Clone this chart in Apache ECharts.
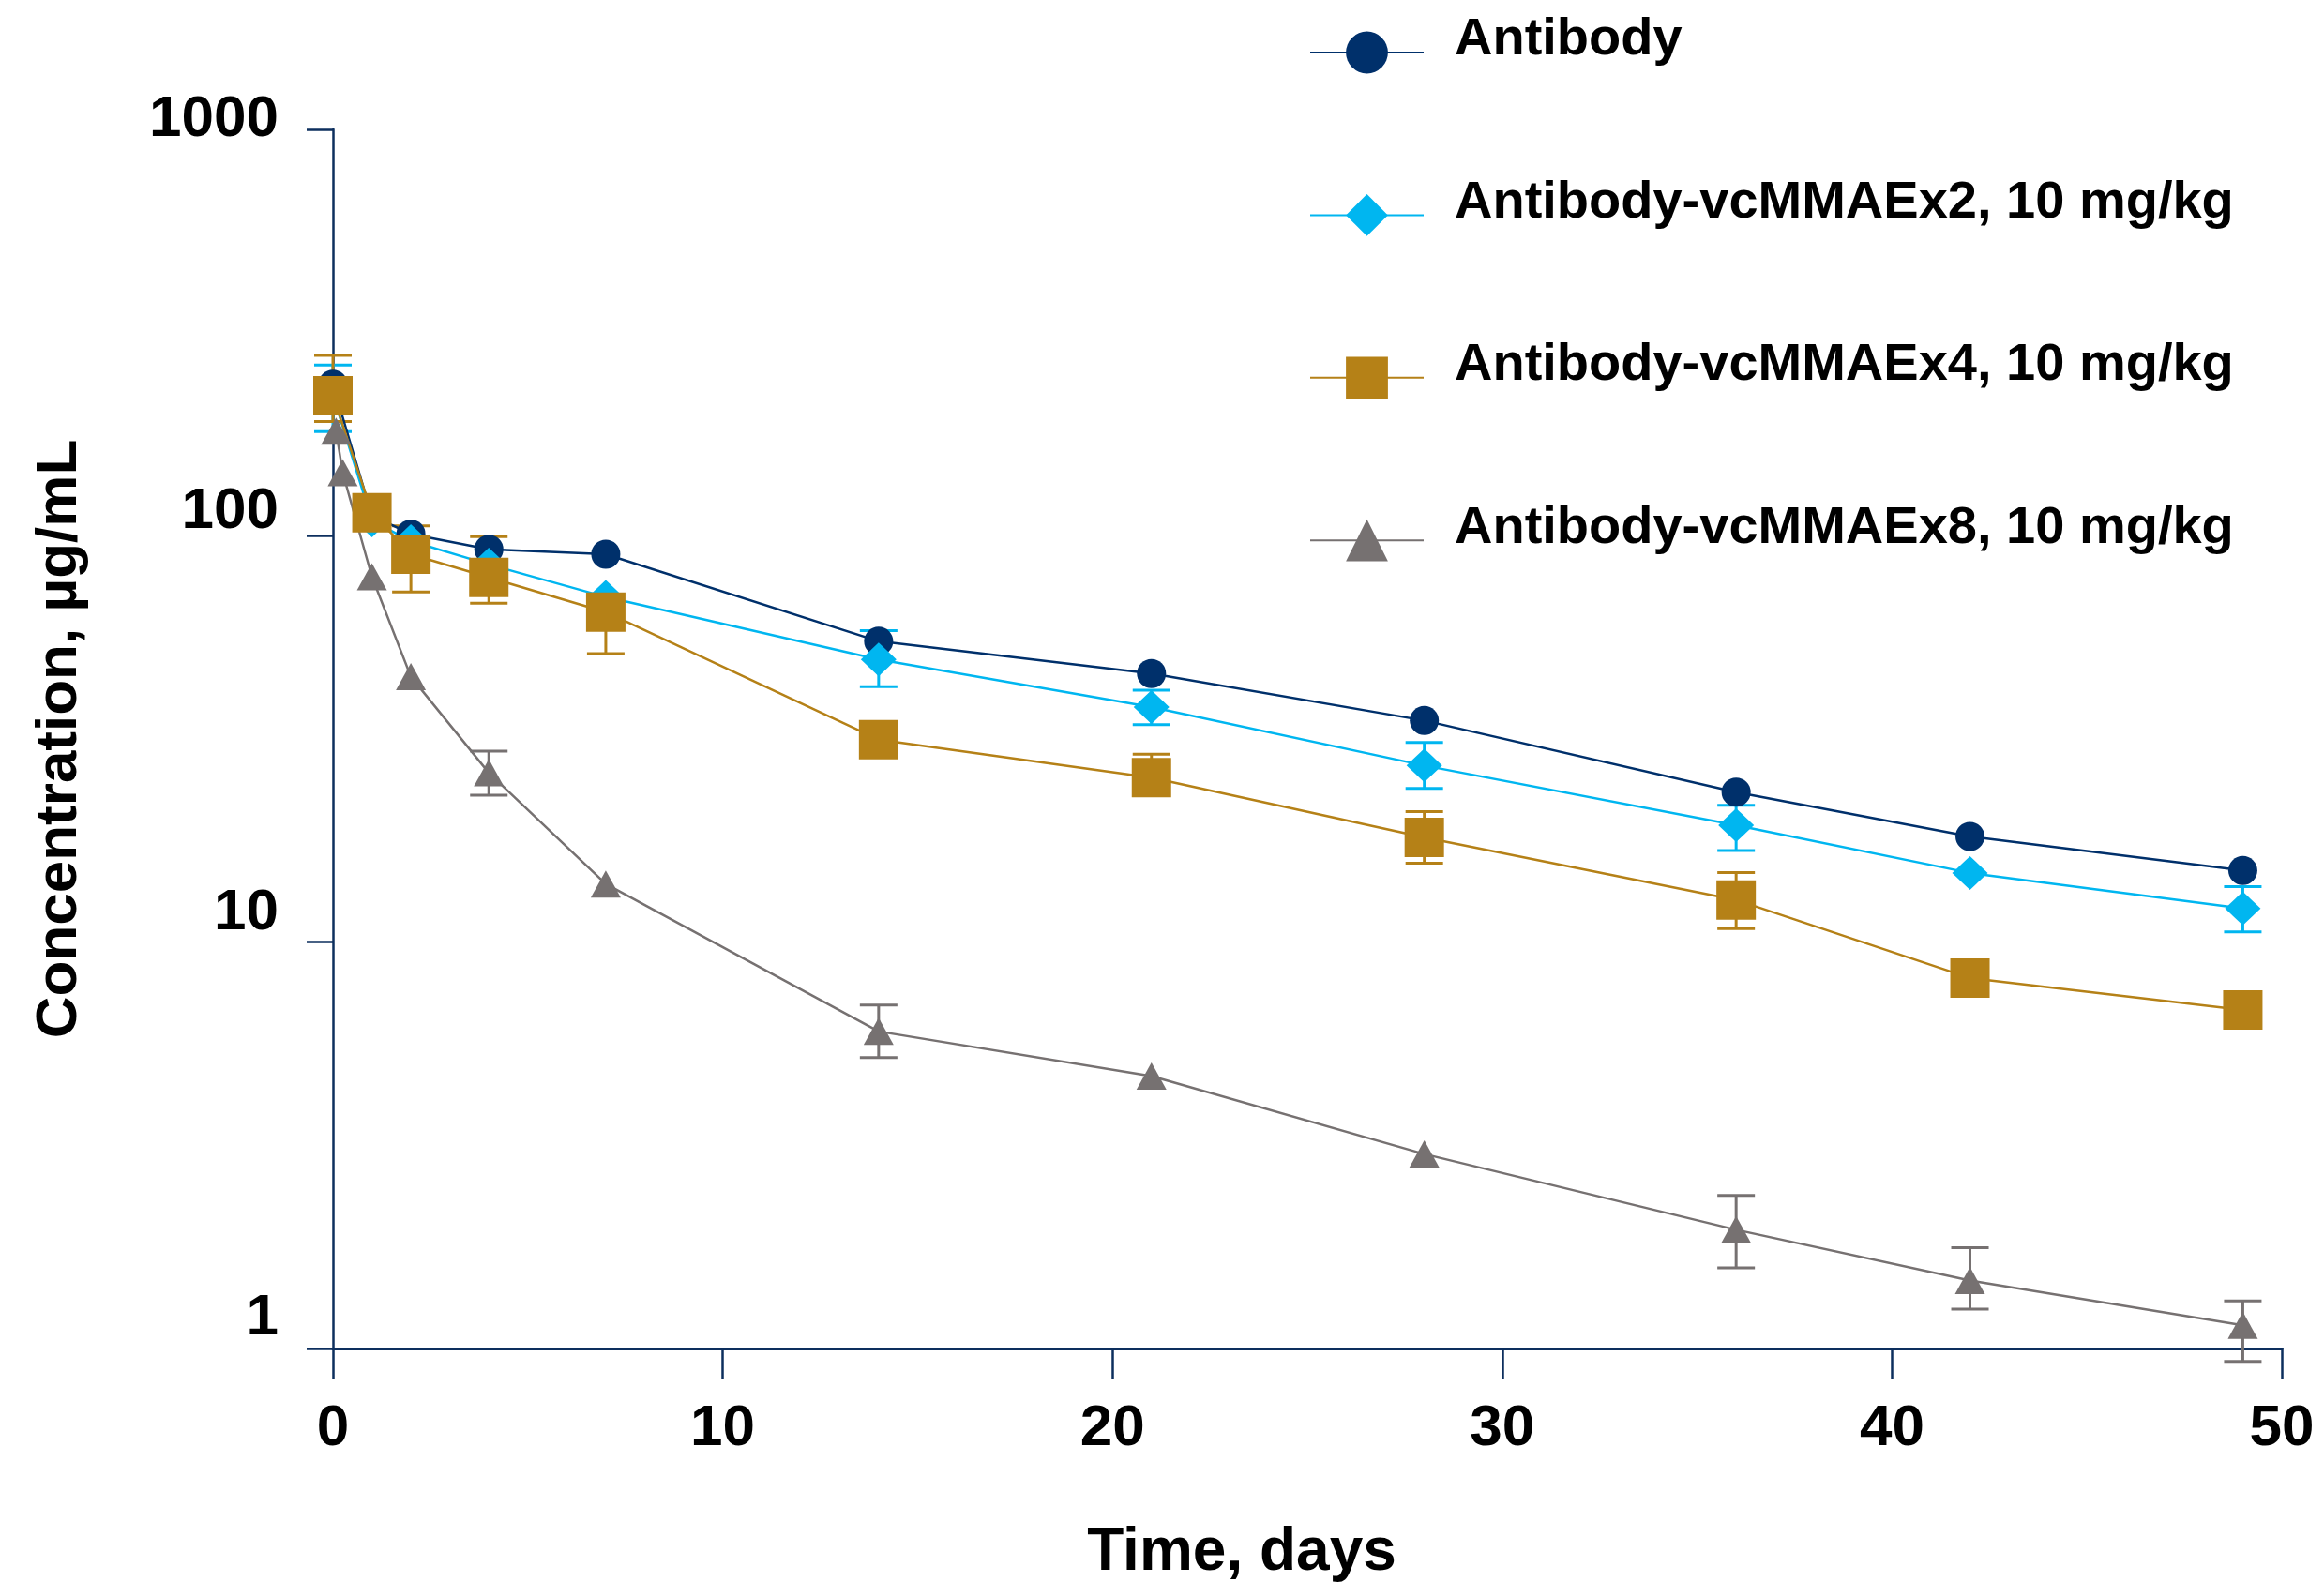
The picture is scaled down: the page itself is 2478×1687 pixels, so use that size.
<!DOCTYPE html>
<html><head><meta charset="utf-8">
<script src="https://cdn.jsdelivr.net/npm/echarts@6/dist/echarts.min.js"></script>
<style>html,body{margin:0;padding:0;background:#fff}#c{width:2478px;height:1687px}</style>
</head><body><div id="c"></div>
<script>
// ---- data ----
const seriesNames = ['Antibody', 'Antibody-vcMMAEx2, 10 mg/kg', 'Antibody-vcMMAEx4, 10 mg/kg', 'Antibody-vcMMAEx8, 10 mg/kg'];
const timesMain = [0, 1, 2, 4, 7, 14, 21, 28, 36, 42, 49];
const timesX8 = [0.08, 0.25, 1, 2, 4, 7, 14, 21, 28, 36, 42, 49];
const antibody = [236, 112, 101, 92.6, 90.1, 55.0, 45.8, 35.1, 23.4, 18.2, 15.0];
const adcX2 = [222, 109, 97, 85, 70.7, 49.6, 37.9, 27.2, 19.4, 14.8, 12.1];
const adcX4 = [221, 114, 90.1, 79.0, 64.9, 31.5, 25.4, 18.1, 12.7, 8.16, 6.81];
const adcX8 = [181, 143, 79.3, 45.0, 26.1, 13.9, 6.03, 4.68, 3.01, 1.96, 1.47, 1.14];
// error bars: [time, low, high]
const errX2 = [[0, 180.5, 263], [14, 42.5, 58.4], [21, 34.3, 41.7], [28, 23.9, 31.0], [36, 16.8, 21.7], [49, 10.6, 13.7]];
const errX4 = [[0, 191, 278], [2, 72.7, 105.8], [4, 68.2, 99.5], [7, 51.3, 70], [21, 23, 29.0], [28, 15.65, 20.96], [36, 10.8, 14.84]];
const errX8 = [[4, 23.0, 29.5], [14, 5.2, 7.0], [36, 1.58, 2.38], [42, 1.25, 1.77], [49, 0.93, 1.31]];
const xTicks = [0, 10, 20, 30, 40, 50];
const yTicks = [1, 10, 100, 1000];

// ---- styles ----
const colors = ['#00306B', '#00B6F0', '#B58117', '#767171'];
const symbols = ['circle', 'diamond', 'rect', 'triangle'];
const symbolSizes = [31, [38, 36], 42, [32, 29]];
const axisColor = '#0D2F5E';
const FONT = '"Liberation Sans", Arial, sans-serif';

function pairs(ts, vs) { return ts.map((t, i) => [t, vs[i]]); }

function errRender(color) {
  return function (params, api) {
    const x = api.value(0), lo = api.value(1), hi = api.value(2);
    const pLo = api.coord([x, lo]), pHi = api.coord([x, hi]);
    const hw = 20;
    const style = { stroke: color, lineWidth: 3, fill: null };
    return {
      type: 'group', children: [
        { type: 'line', shape: { x1: pLo[0], y1: pLo[1], x2: pHi[0], y2: pHi[1] }, style },
        { type: 'line', shape: { x1: pLo[0] - hw, y1: pLo[1], x2: pLo[0] + hw, y2: pLo[1] }, style },
        { type: 'line', shape: { x1: pHi[0] - hw, y1: pHi[1], x2: pHi[0] + hw, y2: pHi[1] }, style }
      ]
    };
  };
}

const lineData = [pairs(timesMain, antibody), pairs(timesMain, adcX2), pairs(timesMain, adcX4), pairs(timesX8, adcX8)];
const errData = [null, errX2, errX4, errX8];

const series = [];
lineData.forEach((d, i) => {
  series.push({
    name: seriesNames[i], type: 'line', data: d,
    symbol: symbols[i], symbolSize: symbolSizes[i],
    itemStyle: { color: colors[i] },
    lineStyle: { color: colors[i], width: 2.5 },
    emphasis: { disabled: true }
  });
  if (errData[i]) {
    series.push({
      name: 'err' + i, type: 'custom', data: errData[i],
      encode: { x: 0, y: [1, 2] },
      renderItem: errRender(colors[i]), clip: false, silent: true
    });
  }
});

const yPad = { 1: 64, 10: 62, 100: 50, 1000: 20 };
const rich = {};
yTicks.forEach(v => {
  rich['p' + v] = { fontSize: 62, fontWeight: 'bold', fontFamily: FONT, color: '#000', padding: [0, 0, yPad[v], 0] };
});

const chart = echarts.init(document.getElementById('c'));
chart.setOption({
  animation: false,
  backgroundColor: '#fff',
  grid: { left: 355, right: 45, top: 138, bottom: 249, containLabel: false, outerBoundsMode: 'none' },
  legend: {
    data: seriesNames, orient: 'vertical', left: 1396, top: 15, padding: 0,
    itemWidth: 121, itemHeight: 56, itemGap: 110,
    formatter: name => '{t|' + name + '}',
    textStyle: { fontSize: 56, fontWeight: 'bold', fontFamily: FONT, color: '#000',
      rich: { t: { fontSize: 56, fontWeight: 'bold', fontFamily: FONT, color: '#000', padding: [0, 0, 26, 28] } } }
  },
  xAxis: {
    type: 'value', min: 0, max: 50, interval: 10,
    name: 'Time, days', nameLocation: 'middle', nameGap: 186,
    nameTextStyle: { fontSize: 64, fontWeight: 'bold', fontFamily: FONT, color: '#000', padding: [0, 140, 0, 0] },
    axisLine: { lineStyle: { color: axisColor, width: 3 } },
    axisTick: { show: true, length: 32, lineStyle: { color: axisColor, width: 2.5 } },
    axisLabel: { margin: 55, fontSize: 62, fontWeight: 'bold', fontFamily: FONT, color: '#000',
      formatter: v => xTicks.includes(v) ? String(v) : '' },
    splitLine: { show: false }
  },
  yAxis: {
    type: 'log', logBase: 10, min: 1, max: 1000,
    name: 'Concentration, µg/mL', nameLocation: 'middle', nameGap: 260, nameRotate: 90,
    nameTextStyle: { fontSize: 62, fontWeight: 'bold', fontFamily: FONT, color: '#000' },
    axisLine: { show: true, lineStyle: { color: axisColor, width: 2.5 } },
    axisTick: { show: true, length: 28, lineStyle: { color: axisColor, width: 2.5 } },
    minorTick: { show: false },
    axisLabel: { margin: 58, rich: rich,
      formatter: v => yTicks.includes(v) ? '{p' + v + '|' + v + '}' : '' },
    splitLine: { show: false }
  },
  series: series
});
</script>
</body></html>
